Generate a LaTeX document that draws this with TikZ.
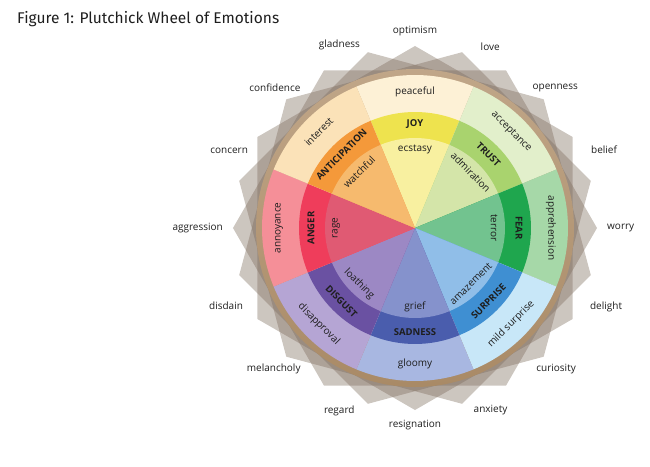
\documentclass[tikz,border=0pt]{standalone}
\usepackage{fontspec}
\setmainfont{Open Sans}
\newfontfamily\titlefont{Fira Sans}
\definecolor{txt}{HTML}{1E1E1E}
\definecolor{starc}{HTML}{7A6858}
\definecolor{ringtop}{HTML}{C0A688}
\definecolor{ringbot}{HTML}{A98A66}
% outer / primary / inner colour of each sector
\definecolor{joyO}{HTML}{FDF1D6}\definecolor{joyM}{HTML}{EEE34E}\definecolor{joyI}{HTML}{F8F0A0}
\definecolor{truO}{HTML}{E2EFCB}\definecolor{truM}{HTML}{A9D36E}\definecolor{truI}{HTML}{D4E5A9}
\definecolor{feaO}{HTML}{A6D8A8}\definecolor{feaM}{HTML}{1FA64E}\definecolor{feaI}{HTML}{72C38F}
\definecolor{surO}{HTML}{C8E7F8}\definecolor{surM}{HTML}{3F8FD2}\definecolor{surI}{HTML}{90BEE8}
\definecolor{sadO}{HTML}{A8B7E1}\definecolor{sadM}{HTML}{4A5DAD}\definecolor{sadI}{HTML}{8592CC}
\definecolor{disO}{HTML}{B5A5D4}\definecolor{disM}{HTML}{6A51A2}\definecolor{disI}{HTML}{9C88C4}
\definecolor{angO}{HTML}{F58F98}\definecolor{angM}{HTML}{EF3D5B}\definecolor{angI}{HTML}{E05A73}
\definecolor{antO}{HTML}{FBE2B8}\definecolor{antM}{HTML}{F4993A}\definecolor{antI}{HTML}{F6BA6E}
\begin{document}
\begin{tikzpicture}[x=1pt,y=1pt,
		every node/.style={inner sep=1pt,text=txt,font=\fontsize{10}{11}\selectfont},
		starfill/.style={fill=starc,fill opacity=0.38},
		primary/.style={font=\fontsize{9.5}{11}\selectfont\bfseries},
		outlabel/.style={font=\fontsize{10}{11}\selectfont}]
		\useasboundingbox (-415,-238) rectangle (235,228);
		\node[anchor=west,font=\titlefont\fontsize{15.5}{17}\selectfont] (title) at (-399,209) {Figure 1: Plutchick Wheel of Emotions};
		% star behind the wheel
		\foreach \r in {0,15,30,45}
			\fill[starfill] (\r:182) \foreach \k in {1,...,5} {-- (\r+\k*60:182)} -- cycle;
		\shade[top color=ringtop,bottom color=ringbot] (0,0) circle (159);
		% sectors
		\foreach \a/\co/\cm/\ci/\lo/\lm/\li/\n in {
				90/joyO/joyM/joyI/peaceful/JOY/ecstasy/joy,
				45/truO/truM/truI/acceptance/TRUST/admiration/trust,
				0/feaO/feaM/feaI/apprehension/FEAR/terror/fear,
				-45/surO/surM/surI/mild surprise/SURPRISE/amazement/surprise,
				-90/sadO/sadM/sadI/gloomy/SADNESS/grief/sadness,
				-135/disO/disM/disI/disapproval/DISGUST/loathing/disgust,
				180/angO/angM/angI/annoyance/ANGER/rage/anger,
				135/antO/antM/antI/interest/ANTICIPATION/watchful/anticipation}{
			\pgfmathsetmacro\rot{\a<0 ? \a+90 : \a-90}
			\fill[\co] (0,0) -- (\a-22.5:153) arc[start angle=\a-22.5,end angle=\a+22.5,radius=153] -- cycle;
			\fill[\cm] (0,0) -- (\a-22.5:116) arc[start angle=\a-22.5,end angle=\a+22.5,radius=116] -- cycle;
			\fill[\ci] (0,0) -- (\a-22.5:90) arc[start angle=\a-22.5,end angle=\a+22.5,radius=90] -- cycle;
			\node[rotate=\rot] (o-\n) at (\a:136) {\lo};
			\node[primary,rotate=\rot] (m-\n) at (\a:104) {\lm};
			\node[rotate=\rot] (i-\n) at (\a:79) {\li};
		}
		% labels round the wheel
		\foreach \a/\l in {90/optimism,67.5/love,45/openness,22.5/belief,0/worry,
				-22.5/delight,-45/curiosity,-67.5/anxiety,-90/resignation,-112.5/regard,
				-135/melancholy,-157.5/disdain,180/aggression,157.5/concern,
				135/confidence,112.5/gladness}
			\node[outlabel,anchor=\a+180] (l-\l) at (\a:191) {\l};
	\end{tikzpicture}
\end{document}
